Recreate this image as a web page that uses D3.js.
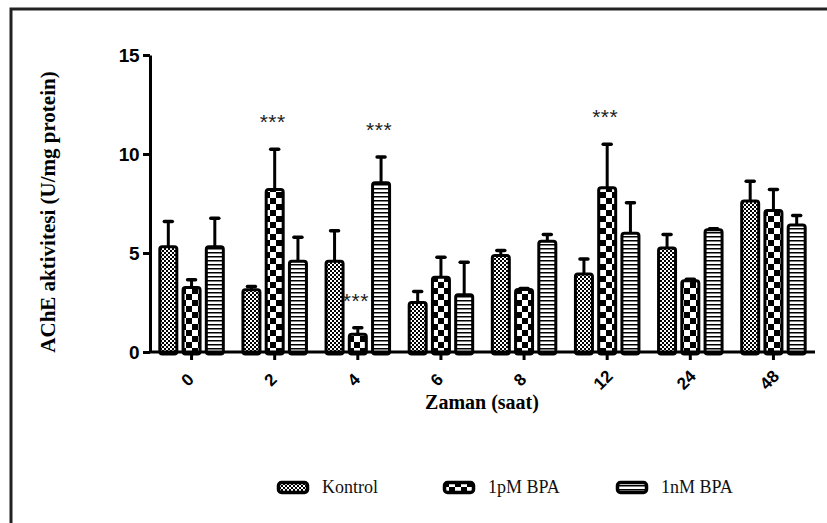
<!DOCTYPE html>
<html>
<head>
<meta charset="utf-8">
<script src="https://cdn.jsdelivr.net/npm/d3@7"></script>
<style>
  html, body { margin: 0; padding: 0; background: #fff; }
  svg { display: block; }
</style>
</head>
<body>
<div id="chart"></div>
<script>
// hours after exposure
var categories = ["0", "2", "4", "6", "8", "12", "24", "48"];
var series = ["Kontrol", "1pM BPA", "1nM BPA"];

var kontrolMean = [5.32, 3.14, 4.58, 2.50, 4.87, 3.94, 5.25, 7.62];
var kontrolErr  = [1.27, 0.17, 1.55, 0.55, 0.25, 0.76, 0.68, 1.01];
var pmMean      = [3.26, 8.21, 0.90, 3.77, 3.16, 8.30, 3.60, 7.15];
var pmErr       = [0.39, 2.03, 0.33, 1.01, 0.05, 2.19, 0.08, 1.06];
var nmMean      = [5.32, 4.58, 8.55, 2.89, 5.59, 6.00, 6.17, 6.42];
var nmErr       = [1.43, 1.22, 1.30, 1.64, 0.34, 1.54, 0.05, 0.47];

// significance marks (***)
var starCats   = ["2", "4", "4", "12"];
var starSeries = ["1pM BPA", "1pM BPA", "1nM BPA", "1pM BPA"];

var yTicks = [0, 5, 10, 15];

var means = {"Kontrol": kontrolMean, "1pM BPA": pmMean, "1nM BPA": nmMean};
var errs  = {"Kontrol": kontrolErr,  "1pM BPA": pmErr,  "1nM BPA": nmErr};
var fills = {"Kontrol": "url(#pat-fine)", "1pM BPA": "url(#pat-check)", "1nM BPA": "url(#pat-hline)"};

var rows = [];
categories.forEach(function(c, i){
    series.forEach(function(s){
        rows.push({cat: c, series: s, mean: means[s][i], err: errs[s][i]});
    });
});

var W = 827, H = 523;
var svg = d3.select("#chart").append("svg")
    .attr("width", W)
    .attr("height", H);

// outer frame
svg.append("rect")
    .attr("x", 11).attr("y", 9)
    .attr("width", 900).attr("height", 700)
    .attr("fill", "none")
    .attr("stroke", "#222")
    .attr("stroke-width", 3);

var defs = svg.append("defs");
var pf = defs.append("pattern").attr("id", "pat-fine")
    .attr("patternUnits", "userSpaceOnUse").attr("width", 4).attr("height", 4);
pf.append("rect").attr("width", 4).attr("height", 4).attr("fill", "#fff");
pf.append("rect").attr("width", 2).attr("height", 2).attr("fill", "#000");
pf.append("rect").attr("x", 2).attr("y", 2).attr("width", 2).attr("height", 2).attr("fill", "#000");

var pc = defs.append("pattern").attr("id", "pat-check")
    .attr("patternUnits", "userSpaceOnUse").attr("width", 12).attr("height", 12);
pc.append("rect").attr("width", 12).attr("height", 12).attr("fill", "#fff");
pc.append("rect").attr("width", 6).attr("height", 6).attr("fill", "#000");
pc.append("rect").attr("x", 6).attr("y", 6).attr("width", 6).attr("height", 6).attr("fill", "#000");

var ph = defs.append("pattern").attr("id", "pat-hline")
    .attr("patternUnits", "userSpaceOnUse").attr("width", 4).attr("height", 4);
ph.append("rect").attr("width", 4).attr("height", 4).attr("fill", "#fff");
ph.append("rect").attr("width", 4).attr("height", 1.5).attr("fill", "#000");

var x0 = d3.scaleBand()
    .domain(categories)
    .range([150, 815])
    .paddingInner(0.2)
    .paddingOuter(0.1);

var x1 = d3.scaleBand()
    .domain(series)
    .range([0, x0.bandwidth()])
    .paddingInner(0.14);

var y = d3.scaleLinear()
    .domain([0, 15])
    .range([352, 55]);

var g = svg.append("g");

// bars
g.selectAll(".bar")
    .data(rows)
    .enter().append("rect")
    .attr("class", "bar")
    .attr("x", function(d){ return x0(d.cat) + x1(d.series) + 1.5; })
    .attr("y", function(d){ return y(d.mean); })
    .attr("width", x1.bandwidth() - 3)
    .attr("height", function(d){ return y(0) - y(d.mean) + 2; })
    .attr("rx", 2.5)
    .attr("fill", function(d){ return fills[d.series]; })
    .attr("stroke", "#000")
    .attr("stroke-width", 3);

// error bars (upper only)
var eb = g.selectAll(".err")
    .data(rows)
    .enter().append("g")
    .attr("class", "err")
    .attr("transform", function(d){ return "translate(" + (x0(d.cat) + x1(d.series) + x1.bandwidth() / 2) + ",0)"; });
eb.append("line")
    .attr("y1", function(d){ return y(d.mean); })
    .attr("y2", function(d){ return y(d.mean + d.err); })
    .attr("stroke", "#000").attr("stroke-width", 3);
eb.append("line")
    .attr("x1", -4).attr("x2", 4)
    .attr("y1", function(d){ return y(d.mean + d.err); })
    .attr("y2", function(d){ return y(d.mean + d.err); })
    .attr("stroke", "#000").attr("stroke-width", 3.5)
    .attr("stroke-linecap", "round");

// stars
var starData = starCats.map(function(c, i){
    return rows.find(function(d){ return d.cat === c && d.series === starSeries[i]; });
});
g.selectAll(".star")
    .data(starData)
    .enter().append("text")
    .attr("class", "star")
    .attr("x", function(d){ return x0(d.cat) + x1(d.series) + x1.bandwidth() / 2 - 2; })
    .attr("y", function(d){ return y(d.mean + d.err) - 20; })
    .attr("text-anchor", "middle")
    .attr("font-family", "Liberation Sans, Arial, sans-serif")
    .attr("font-size", 21)
    .attr("letter-spacing", 0.5)
    .attr("fill", "#222")
    .text("***");

// y axis
var yAxis = svg.append("g")
    .attr("transform", "translate(150,0)")
    .call(d3.axisLeft(y).tickValues(yTicks).tickSize(7).tickPadding(4).tickSizeOuter(0));
yAxis.select(".domain").attr("stroke", "#000").attr("stroke-width", 3);
yAxis.selectAll(".tick line").attr("stroke", "#000").attr("stroke-width", 3);
yAxis.selectAll(".tick text")
    .attr("font-family", "Liberation Sans, Arial, sans-serif")
    .attr("font-weight", "bold")
    .attr("font-size", 19)
    .attr("letter-spacing", -0.5)
    .attr("fill", "#000");

// x axis
var xAxis = svg.append("g")
    .attr("transform", "translate(0,352)")
    .call(d3.axisBottom(x0).tickSize(8).tickSizeOuter(0));
xAxis.select(".domain").attr("d", "M150,0H815").attr("stroke", "#000").attr("stroke-width", 3);
xAxis.selectAll(".tick line").attr("stroke", "#000").attr("stroke-width", 3);
xAxis.selectAll(".tick text")
    .attr("font-family", "Liberation Sans, Arial, sans-serif")
    .attr("font-weight", "bold")
    .attr("font-size", 17)
    .attr("fill", "#000")
    .attr("text-anchor", "middle")
    .attr("dy", null)
    .attr("y", 0)
    .attr("transform", "translate(0,32) rotate(-45)");

// axis titles
svg.append("text")
    .attr("x", 482).attr("y", 409)
    .attr("text-anchor", "middle")
    .attr("font-family", "Liberation Serif, Times New Roman, serif")
    .attr("font-weight", "bold")
    .attr("font-size", 20)
    .text("Zaman (saat)");

svg.append("text")
    .attr("transform", "translate(55,212) rotate(-90)")
    .attr("text-anchor", "middle")
    .attr("font-family", "Liberation Serif, Times New Roman, serif")
    .attr("font-weight", "bold")
    .attr("font-size", 21)
    .text("AChE aktivitesi (U/mg protein)");

// legend
var legendX = [277, 443, 616];
var legend = svg.selectAll(".legend")
    .data(series)
    .enter().append("g")
    .attr("class", "legend")
    .attr("transform", function(d, i){ return "translate(" + legendX[i] + ",481)"; });
legend.append("rect")
    .attr("x", 1.5).attr("y", 1.5)
    .attr("width", 29).attr("height", 10)
    .attr("rx", 3)
    .attr("fill", function(d){ return fills[d]; })
    .attr("stroke", "#000")
    .attr("stroke-width", 3.5);
legend.append("text")
    .attr("x", 45).attr("y", 12)
    .attr("font-family", "Liberation Serif, Times New Roman, serif")
    .attr("font-size", 18)
    .attr("fill", "#111")
    .text(function(d){ return d; });
</script>
</body>
</html>
